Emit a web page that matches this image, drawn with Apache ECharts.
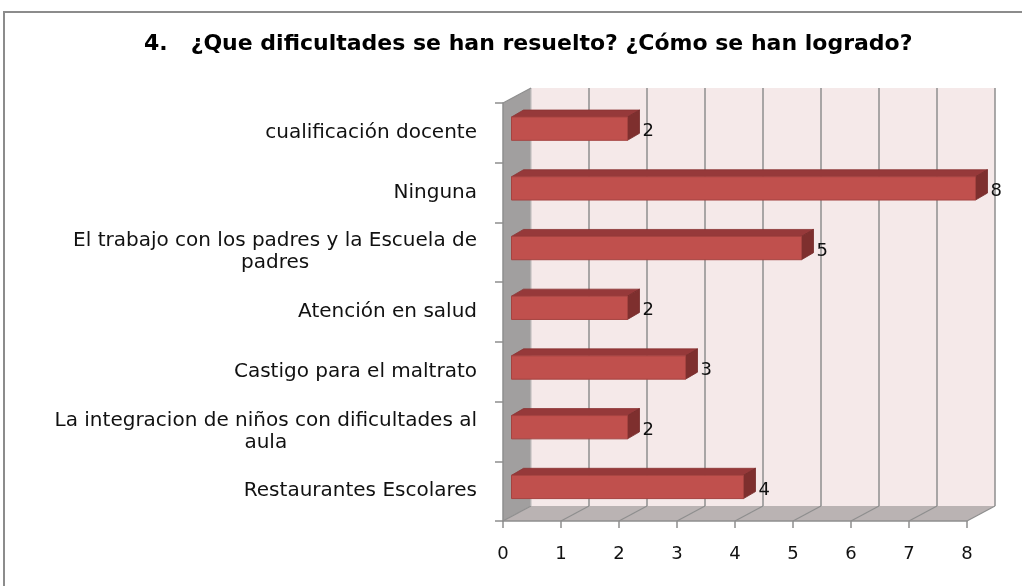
<!DOCTYPE html>
<html>
<head>
<meta charset="utf-8">
<script src="https://cdn.jsdelivr.net/npm/echarts@6/dist/echarts.min.js"></script>
<style>
  html, body { margin: 0; padding: 0; background: #fff; }
  #main { width: 1022px; height: 586px; }
</style>
</head>
<body>
<div id="main"></div>
<script>
// chart data
var titleText = '4.   ¿Que dificultades se han resuelto? ¿Cómo se han logrado?';
var categories = [
  'cualificación docente',
  'Ninguna',
  'El trabajo con los padres y la Escuela de\npadres',
  'Atención en salud',
  'Castigo para el maltrato',
  'La integracion de niños con dificultades al\naula',
  'Restaurantes Escolares'
];
var values = [2, 8, 5, 2, 3, 2, 4];
var xTicks = [0, 1, 2, 3, 4, 5, 6, 7, 8];

var chartDom = document.getElementById('main');
var myChart = echarts.init(chartDom);

// depth of the "3d" box and of the bars
var DX = 28, DY = -15;
var BX = 8.5, BY = -4.2, BDX = 12, BDY = -7;

function renderWalls(params, api) {
  var cs = params.coordSys;
  var left = cs.x, top = cs.y, bottom = cs.y + cs.height, right = cs.x + cs.width;
  var kids = [];
  // back wall
  kids.push({
    type: 'rect',
    shape: { x: left + DX, y: top + DY, width: right - left, height: bottom - top },
    style: { fill: '#F5E9E9' }
  });
  // left wall
  kids.push({
    type: 'polygon',
    shape: { points: [[left, top], [left + DX, top + DY], [left + DX, bottom + DY], [left, bottom]] },
    style: { fill: '#A19F9F' }
  });
  // floor
  kids.push({
    type: 'polygon',
    shape: { points: [[left, bottom], [left + DX, bottom + DY], [right + DX, bottom + DY], [right, bottom]] },
    style: { fill: '#BAB3B3' }
  });
  // gridlines on the back wall and floor
  xTicks.forEach(function (t) {
    var x = api.coord([t, 0])[0];
    if (t > 0) {
      kids.push({
        type: 'line',
        shape: { x1: x + DX, y1: top + DY, x2: x + DX, y2: bottom + DY },
        style: { stroke: '#8E8E8E', lineWidth: 1.5 }
      });
    }
    kids.push({
      type: 'line',
      shape: { x1: x, y1: bottom, x2: x + DX, y2: bottom + DY },
      style: { stroke: '#8E8E8E', lineWidth: 1.2 }
    });
  });
  // left wall edges
  kids.push({
    type: 'line',
    shape: { x1: left + DX, y1: top + DY, x2: left + DX, y2: bottom + DY },
    style: { stroke: '#C4C2C2', lineWidth: 1.2 }
  });
  kids.push({
    type: 'line',
    shape: { x1: left, y1: top, x2: left + DX, y2: top + DY },
    style: { stroke: '#8E8E8E', lineWidth: 1.2 }
  });
  return { type: 'group', children: kids };
}

function renderBar(params, api) {
  var val = api.value(0), cat = api.value(1);
  var p0 = api.coord([0, cat]);
  var p1 = api.coord([val, cat]);
  var band = api.size([0, 1])[1];
  var h = band * 0.39;
  var x0 = p0[0] + BX, x1 = p1[0] + BX;
  var yt = p0[1] - h / 2 + BY, yb = yt + h;
  return {
    type: 'group',
    children: [
      {
        type: 'polygon',
        shape: { points: [[x0, yt], [x0 + BDX, yt + BDY], [x1 + BDX, yt + BDY], [x1, yt]] },
        style: { fill: '#96393A', stroke: '#8A3433', lineWidth: 0.8 }
      },
      {
        type: 'polygon',
        shape: { points: [[x1, yt], [x1 + BDX, yt + BDY], [x1 + BDX, yb + BDY], [x1, yb]] },
        style: { fill: '#7E2F2E', stroke: '#762B2A', lineWidth: 0.8 }
      },
      {
        type: 'rect',
        shape: { x: x0, y: yt, width: x1 - x0, height: h },
        style: { fill: '#C0504D', stroke: '#A54340', lineWidth: 1 }
      },
      {
        type: 'text',
        style: {
          text: String(val),
          x: x1 + BDX + 3,
          y: (yt + yb) / 2 + 3,
          verticalAlign: 'middle',
          align: 'left',
          font: '18px "DejaVu Sans"',
          fill: '#111'
        }
      }
    ]
  };
}

var barData = values.map(function (v, i) { return [v, i]; });

var option = {
  backgroundColor: '#fff',
  animation: false,
  title: {
    text: titleText,
    left: 139,
    top: 28,
    textStyle: {
      fontFamily: 'DejaVu Sans',
      fontWeight: 'bold',
      fontSize: 22,
      color: '#000'
    }
  },
  graphic: [
    {
      type: 'rect',
      shape: { x: 4, y: 12, width: 1100, height: 700 },
      style: { fill: 'none', stroke: '#8C8C8C', lineWidth: 2 },
      silent: true
    }
  ],
  grid: {
    left: 503,
    right: 55,
    top: 103,
    bottom: 65,
    containLabel: false
  },
  xAxis: {
    type: 'value',
    min: 0,
    max: 8,
    interval: 1,
    axisLine: { show: true, lineStyle: { color: '#8E8E8E', width: 1.5 } },
    axisTick: { show: true, length: 7, lineStyle: { color: '#8E8E8E', width: 1.5 } },
    axisLabel: {
      margin: 24,
      fontFamily: 'DejaVu Sans',
      fontSize: 18,
      color: '#111'
    },
    splitLine: { show: false }
  },
  yAxis: {
    type: 'category',
    data: categories,
    inverse: true,
    axisLine: { show: true, lineStyle: { color: '#8E8E8E', width: 1.5 } },
    axisTick: { show: true, length: 8, lineStyle: { color: '#8E8E8E', width: 1.5 } },
    axisLabel: {
      margin: 26,
      align: 'right',
      lineHeight: 22,
      fontFamily: 'DejaVu Sans',
      fontSize: 20,
      color: '#111',
      formatter: function (v) {
        return v.split('\n').map(function (s) { return '{c|' + s + '}'; }).join('\n');
      },
      rich: {
        c: {
          align: 'center',
          fontFamily: 'DejaVu Sans',
          fontSize: 20,
          lineHeight: 22,
          color: '#111'
        }
      }
    },
    splitLine: { show: false }
  },
  series: [
    {
      type: 'custom',
      name: 'walls',
      z: -1,
      silent: true,
      renderItem: renderWalls,
      data: [[0, 0]],
      encode: { x: 0, y: 1 }
    },
    {
      type: 'custom',
      name: 'bars',
      z: 3,
      renderItem: renderBar,
      data: barData,
      encode: { x: 0, y: 1 }
    }
  ]
};

myChart.setOption(option);
</script>
</body>
</html>
